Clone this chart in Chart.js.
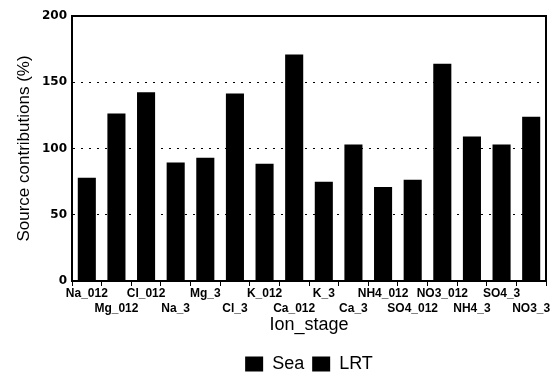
<!DOCTYPE html>
<html>
<head>
<meta charset="utf-8">
<script src="https://cdn.jsdelivr.net/npm/chart.js@4"></script>
<style>
html, body { margin: 0; background: #fff; }
#wrap { width: 551px; height: 373px; }
</style>
</head>
<body>
<div id="wrap"><canvas id="chart"></canvas></div>
<script>
// data
const ionStages = ["Na_012", "Mg_012", "Cl_012", "Na_3", "Mg_3", "Cl_3", "K_012", "Ca_012",
                   "K_3", "Ca_3", "NH4_012", "SO4_012", "NO3_012", "NH4_3", "SO4_3", "NO3_3"];
const seaValues = [78, 126.5, 142.5, 89.5, 93, 141.5, 88.5, 171, 75, 103, 71, 76.5, 164, 109, 103, 124];
const lrtValues = ionStages.map(() => null); // not separable in the print (both black)
const yTicks = [0, 50, 100, 150, 200];

// labels alternate between two rows
const staggered = ionStages.map((s, i) => i % 2 === 0 ? [s, ""] : ["", s]);

const font = "'Liberation Sans', Arial, sans-serif";

// box round the plot area, legend centred under the plot
const frame = {
    id: "frame",
    beforeDraw(chart) {
        const l = chart.legend;
        const a = chart.chartArea;
        if (l) {
            l.left = a.left;
            l.right = a.right;
            l.width = a.right - a.left;
        }
    },
    afterDatasetsDraw(chart) {
        const a = chart.chartArea;
        const ctx = chart.ctx;
        ctx.save();
        ctx.strokeStyle = "#000";
        ctx.lineWidth = 2;
        ctx.strokeRect(a.left, a.top, a.right - a.left, a.bottom - a.top);
        ctx.restore();
    }
};

new Chart(document.getElementById("chart"), {
    type: "bar",
    data: {
        labels: staggered,
        datasets: [{
            label: "Sea",
            data: seaValues,
            backgroundColor: "#000",
            barPercentage: 0.61,
            categoryPercentage: 1
        }, {
            label: "LRT",
            data: lrtValues,
            backgroundColor: "#000",
            barPercentage: 0.61,
            categoryPercentage: 1
        }]
    },
    options: {
        responsive: true,
        maintainAspectRatio: false,
        animation: false,
        layout: { padding: { left: 0, right: 5, top: 16, bottom: -10 } },
        plugins: {
            legend: {
                position: "bottom",
                labels: {
                    color: "#000",
                    boxWidth: 18,
                    boxHeight: 15,
                    padding: 8,
                    font: { family: font, size: 18 }
                }
            },
            tooltip: { enabled: false }
        },
        scales: {
            x: {
                stacked: true,
                afterFit: (s) => { s.height = 66; },
                grid: { offset: true, drawOnChartArea: false, tickLength: 5, color: "#000" },
                border: { color: "#000", width: 2 },
                ticks: {
                    color: "#000", autoSkip: false, maxRotation: 0, padding: 0,
                    font: { family: font, size: 12, weight: "bold", lineHeight: 1.25 }
                },
                title: {
                    display: true, text: "Ion_stage", color: "#000",
                    font: { family: font, size: 18 },
                    padding: { top: 0, bottom: 11 }
                }
            },
            y: {
                stacked: true,
                min: 0, max: 200,
                afterFit: (s) => { s.width = 72; },
                afterBuildTicks: (s) => { s.ticks = yTicks.map(v => ({ value: v })); },
                grid: { color: "#000", drawTicks: false, lineWidth: 1 },
                border: { color: "#000", width: 2, dash: [2, 6] },
                ticks: {
                    color: "#000", padding: 5,
                    font: { family: "'DejaVu Sans', sans-serif", size: 12, weight: "bold" }
                },
                title: {
                    display: true, text: "Source contributions (%)", color: "#000",
                    font: { family: font, size: 17 },
                    padding: { top: 14, bottom: 0 }
                }
            }
        }
    },
    plugins: [frame]
});
</script>
</body>
</html>
